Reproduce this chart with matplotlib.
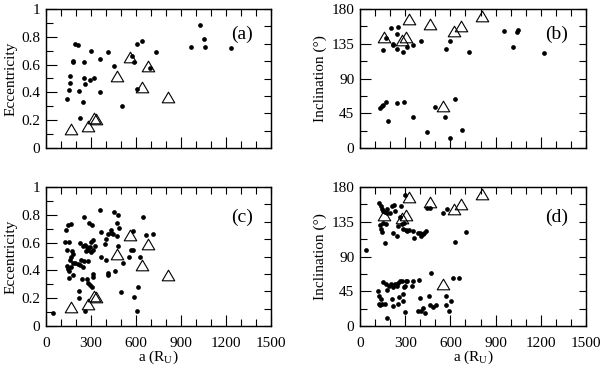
import matplotlib
matplotlib.use("Agg")
import matplotlib.pyplot as plt
from matplotlib.path import Path
from matplotlib.ticker import MultipleLocator

plt.rcParams['font.family'] = ['Liberation Serif', 'DejaVu Serif']
plt.rcParams['mathtext.fontset'] = 'custom'
plt.rcParams['mathtext.rm'] = 'Liberation Serif'
plt.rcParams['mathtext.it'] = 'Liberation Serif:italic'

# ---------------- data ----------------
# panel (a): a vs eccentricity (dots)
a_a = [142, 153, 160, 162, 180, 180, 193, 211, 227, 222, 249, 256, 256, 258, 293, 320, 300,
       360, 358, 413, 453, 504, 573, 584, 604, 607, 640, 693, 731, 964, 1024, 1056, 1058, 1233]
e_a = [0.349, 0.417, 0.47, 0.516, 0.627, 0.617, 0.747, 0.742, 0.219, 0.412, 0.33, 0.617, 0.506,
       0.46, 0.489, 0.501, 0.699, 0.643, 0.40, 0.689, 0.588, 0.299, 0.665, 0.619, 0.422, 0.747,
       0.773, 0.576, 0.689, 0.725, 0.882, 0.781, 0.725, 0.718]

# panel (b): a vs inclination (dots)
a_b = [133, 144, 155, 173, 188, 246, 292, 350, 442, 495, 566, 595, 630, 679,
       150, 173, 204, 217, 221, 243, 252, 248, 285, 310, 350, 405, 571, 597, 721,
       953, 1013, 1044, 1046, 1221]
i_b = [52, 55, 56, 59, 35, 58, 60, 40, 21, 53, 40, 13, 64, 23,
       127, 142, 156, 133, 135, 147, 157, 128, 124, 131, 134, 139, 128, 138, 124,
       152, 131, 150, 153, 123]

# panel (c): a vs eccentricity (dots)
a_c = [49, 127, 151, 133, 147, 169, 138, 173, 178, 164, 160, 142, 147, 156, 164, 151, 178, 182,
       196, 213, 224, 236, 244, 256, 278, 227, 249, 258, 271, 264, 280, 293, 298, 316, 313, 329,
       300, 253, 287, 309, 360, 218, 218, 240, 260, 271, 282, 291, 304, 311, 311, 364, 364, 393,
       398, 400, 416, 431, 436, 416, 416, 458, 444, 451, 471, 478, 471, 484, 478, 498, 516, 556,
       564, 578, 582, 589, 604, 616, 627, 644, 667, 716]
e_c = [0.096, 0.605, 0.605, 0.694, 0.73, 0.737, 0.55, 0.538, 0.517, 0.493, 0.474, 0.431, 0.407,
       0.397, 0.421, 0.344, 0.364, 0.45, 0.45, 0.443, 0.438, 0.474, 0.426, 0.467, 0.469, 0.598,
       0.574, 0.586, 0.565, 0.536, 0.545, 0.565, 0.603, 0.622, 0.55, 0.574, 0.533, 0.785, 0.744,
       0.725, 0.833, 0.254, 0.203, 0.337, 0.11, 0.337, 0.311, 0.292, 0.278, 0.373, 0.349, 0.675,
       0.493, 0.589, 0.478, 0.629, 0.66, 0.689, 0.67, 0.383, 0.368, 0.397, 0.665, 0.821, 0.646,
       0.797, 0.742, 0.708, 0.579, 0.242, 0.45, 0.493, 0.545, 0.55, 0.682, 0.206, 0.11, 0.282,
       0.498, 0.785, 0.653, 0.665]

# panel (d): a vs inclination (dots)
a_d = [40, 119, 128, 124, 133, 142, 146, 155, 164, 173, 177, 181, 195, 208, 212, 217, 221, 235,
       243, 252, 261, 265, 254, 277, 283, 288, 292, 301, 305, 296, 314, 345, 354, 394, 387, 400,
       407, 420, 431, 460, 464, 471, 487, 504, 573, 571, 593, 606, 615, 657,
       128, 137, 146, 155, 164, 177, 181, 199, 212, 226, 232, 133, 142, 146, 155, 164, 173, 217,
       248, 254, 265, 270, 279, 288, 292, 301, 305, 314, 325, 354, 358, 385, 398, 407, 416, 424,
       438, 447, 464, 549, 575, 633, 703]
i_d = [98, 45, 39, 29, 27, 35, 28, 57, 28, 55, 10, 46, 52, 55, 35, 26, 51, 55,
       52, 56, 37, 58, 28, 58, 32, 42, 50, 52, 58, 18, 58, 52, 58, 60, 19, 36,
       20, 23, 17, 39, 27, 69, 25, 27, 39, 27, 19, 32, 62, 62,
       159, 155, 152, 149, 147, 146, 151, 146, 156, 157, 149, 131, 126, 122, 134, 107, 132, 120,
       117, 130, 141, 156, 132, 125, 134, 170, 124, 123, 124, 123, 114, 121, 121, 117, 119, 121,
       123, 153, 153, 146, 151, 109, 122]

# triangles (same objects in top and bottom rows)
tri_a_ecc = [167, 282, 318, 332, 476, 558, 638, 680, 815]
tri_ecc = [0.14, 0.157, 0.217, 0.212, 0.518, 0.658, 0.441, 0.59, 0.364]
tri_a_inc = [161, 277, 305, 325, 467, 551, 626, 670, 807]
tri_inc = [144, 140, 144, 167, 160, 55, 152, 158, 171]

x_ticks = [0, 300, 600, 900, 1200, 1500]
ecc_ticks = [0, 0.2, 0.4, 0.6, 0.8, 1]
ecc_labels = ['0', '0.2', '0.4', '0.6', '0.8', '1']
inc_ticks = [0, 45, 90, 135, 180]
xlabel = 'a (R$_\\mathrm{U}$)'

# ---------------- figure ----------------
fig = plt.figure(figsize=(6.0, 3.68), dpi=100)

W, H = 600.0, 368.0
def rect(l, r, t, b):
    return [l / W, 1 - b / H, (r - l) / W, (b - t) / H]

tri_marker = Path([(-1, -0.85), (1, -0.85), (0, 0.85), (-1, -0.85)],
                  [Path.MOVETO, Path.LINETO, Path.LINETO, Path.CLOSEPOLY])

panels = [
    ('(a)', rect(46, 271, 9, 148), a_a, e_a, tri_a_ecc, tri_ecc, 'ecc', False, 0.82),
    ('(b)', rect(360, 586, 9, 148), a_b, i_b, tri_a_inc, tri_inc, 'inc', False, 0.82),
    ('(c)', rect(46, 271, 187, 326), a_c, e_c, tri_a_ecc, tri_ecc, 'ecc', True, 0.785),
    ('(d)', rect(360, 586, 187, 326), a_d, i_d, tri_a_inc, tri_inc, 'inc', True, 0.785),
]

for lab, r, xs, ys, txs, tys, kind, showx, ly in panels:
    ax = fig.add_axes(r)
    ax.plot(txs, tys, linestyle='none', marker=tri_marker, markersize=9,
            markerfacecolor='none', markeredgecolor='black', markeredgewidth=0.8, zorder=2)
    ax.plot(xs, ys, linestyle='none', marker='o', markersize=3.4,
            color='black', markeredgewidth=0, zorder=3)
    ax.set_xlim(0, 1500)
    ax.set_xticks(x_ticks)
    ax.xaxis.set_minor_locator(MultipleLocator(100))
    if kind == 'ecc':
        ax.set_ylim(0, 1)
        ax.set_yticks(ecc_ticks)
        ax.set_yticklabels(ecc_labels)
        ax.yaxis.set_minor_locator(MultipleLocator(0.1))
        ax.set_ylabel('Eccentricity', fontsize=11, labelpad=3)
        rstep = 0.125
    else:
        ax.set_ylim(0, 180)
        ax.set_yticks(inc_ticks)
        ax.yaxis.set_minor_locator(MultipleLocator(22.5))
        ax.set_ylabel('Inclination (°)', fontsize=11, labelpad=3)
        rstep = 22.5
    ax.tick_params(which='major', direction='in', length=8, width=0.8, labelsize=11, pad=4)
    ax.tick_params(which='minor', direction='in', length=5, width=0.8)
    ax.tick_params(axis='x', which='major', pad=8)
    if showx:
        ax.set_xlabel(xlabel, fontsize=11, labelpad=-1)
    else:
        ax.tick_params(axis='x', labelbottom=False)
    for s in ax.spines.values():
        s.set_linewidth(0.9)

    # top ticks
    axt = ax.twiny()
    axt.set_xlim(0, 1500)
    axt.xaxis.set_major_locator(MultipleLocator(100))
    axt.tick_params(axis='x', direction='in', length=5, width=0.8, labeltop=False)
    # right ticks
    axr = ax.twinx()
    axr.set_ylim(ax.get_ylim())
    axr.yaxis.set_major_locator(MultipleLocator(rstep))
    axr.tick_params(axis='y', direction='in', length=5, width=0.8, labelright=False)

    ax.text(0.87, ly, lab, transform=ax.transAxes, fontsize=14,
            ha='center', va='center')

fig.savefig('out.png', dpi=100)
